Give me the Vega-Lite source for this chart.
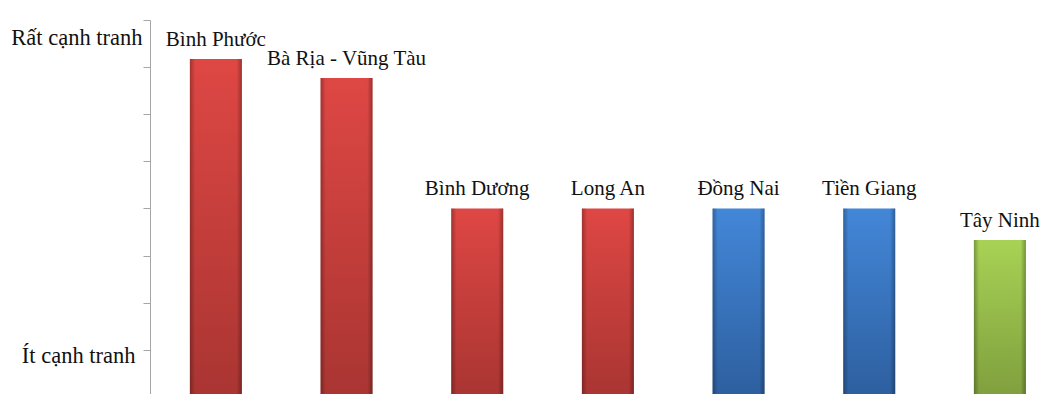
{
  "$schema": "https://vega.github.io/schema/vega-lite/v6.json",
  "autosize": "none",
  "padding": {"left": 150, "top": 20, "right": 0, "bottom": 0},
  "width": 893,
  "height": 374,
  "background": "white",
  "config": {"view": {"stroke": null}},
  "data": {
    "values": [
      {"tinh": "Bình Phước", "diem": 7.17, "nhom": "A"},
      {"tinh": "Bà Rịa - Vũng Tàu", "diem": 6.77, "nhom": "A"},
      {"tinh": "Bình Dương", "diem": 4.0, "nhom": "A"},
      {"tinh": "Long An", "diem": 4.0, "nhom": "A"},
      {"tinh": "Đồng Nai", "diem": 4.0, "nhom": "B"},
      {"tinh": "Tiền Giang", "diem": 4.0, "nhom": "B"},
      {"tinh": "Tây Ninh", "diem": 3.33, "nhom": "C"}
    ]
  },
  "encoding": {
    "x": {
      "field": "tinh",
      "type": "nominal",
      "sort": null,
      "axis": null,
      "scale": {"paddingInner": 0.602, "paddingOuter": 0.218, "align": 0.7}
    },
    "y": {
      "field": "diem",
      "type": "quantitative",
      "scale": {"domain": [0.06, 8], "nice": false, "zero": false},
      "axis": {
        "title": null,
        "grid": false,
        "values": [0.87, 1, 2, 3, 4, 5, 6, 7, 7.62, 8],
        "labelExpr": "datum.value == 7.62 ? 'Rất cạnh tranh' : (datum.value == 0.87 ? 'Ít cạnh tranh' : '')",
        "labelFont": "Liberation Serif",
        "labelFontSize": 22.5,
        "labelColor": "#111111",
        "labelOverlap": false,
        "labelBound": false,
        "labelFlush": false,
        "labelPadding": {"condition": {"test": "datum.value < 1", "value": 8}, "value": 1},
        "tickSize": 7,
        "tickColor": "#a6a6a6",
        "tickOpacity": {"condition": {"test": "datum.value % 1 != 0", "value": 0}, "value": 1},
        "domainColor": "#a6a6a6",
        "domainWidth": 1
      }
    }
  },
  "layer": [
    {
      "mark": {"type": "bar", "clip": true},
      "encoding": {
        "fill": {
          "condition": [
            {"test": "datum.nhom === 'A'", "value": {"gradient": "linear", "x1": 0, "y1": 0, "x2": 0, "y2": 1, "stops": [{"offset": 0, "color": "#de4744"}, {"offset": 1, "color": "#a93532"}]}},
            {"test": "datum.nhom === 'B'", "value": {"gradient": "linear", "x1": 0, "y1": 0, "x2": 0, "y2": 1, "stops": [{"offset": 0, "color": "#4387d8"}, {"offset": 1, "color": "#2d5f9f"}]}}
          ],
          "value": {"gradient": "linear", "x1": 0, "y1": 0, "x2": 0, "y2": 1, "stops": [{"offset": 0, "color": "#a8d255"}, {"offset": 1, "color": "#7f9f3d"}]}
        }
      }
    },
    {
      "mark": {"type": "bar", "clip": true, "fill": {"gradient": "linear", "x1": 0, "y1": 0, "x2": 1, "y2": 0, "stops": [{"offset": 0, "color": "rgba(0,0,0,0.28)"}, {"offset": 0.1, "color": "rgba(0,0,0,0)"}, {"offset": 0.9, "color": "rgba(0,0,0,0)"}, {"offset": 1, "color": "rgba(0,0,0,0.3)"}]}},
      "encoding": {}
    },
    {
      "mark": {"type": "text", "font": "Liberation Serif", "fontSize": 21, "color": "#111111", "baseline": "alphabetic", "dy": -13},
      "encoding": {"text": {"field": "tinh"}}
    }
  ]
}
